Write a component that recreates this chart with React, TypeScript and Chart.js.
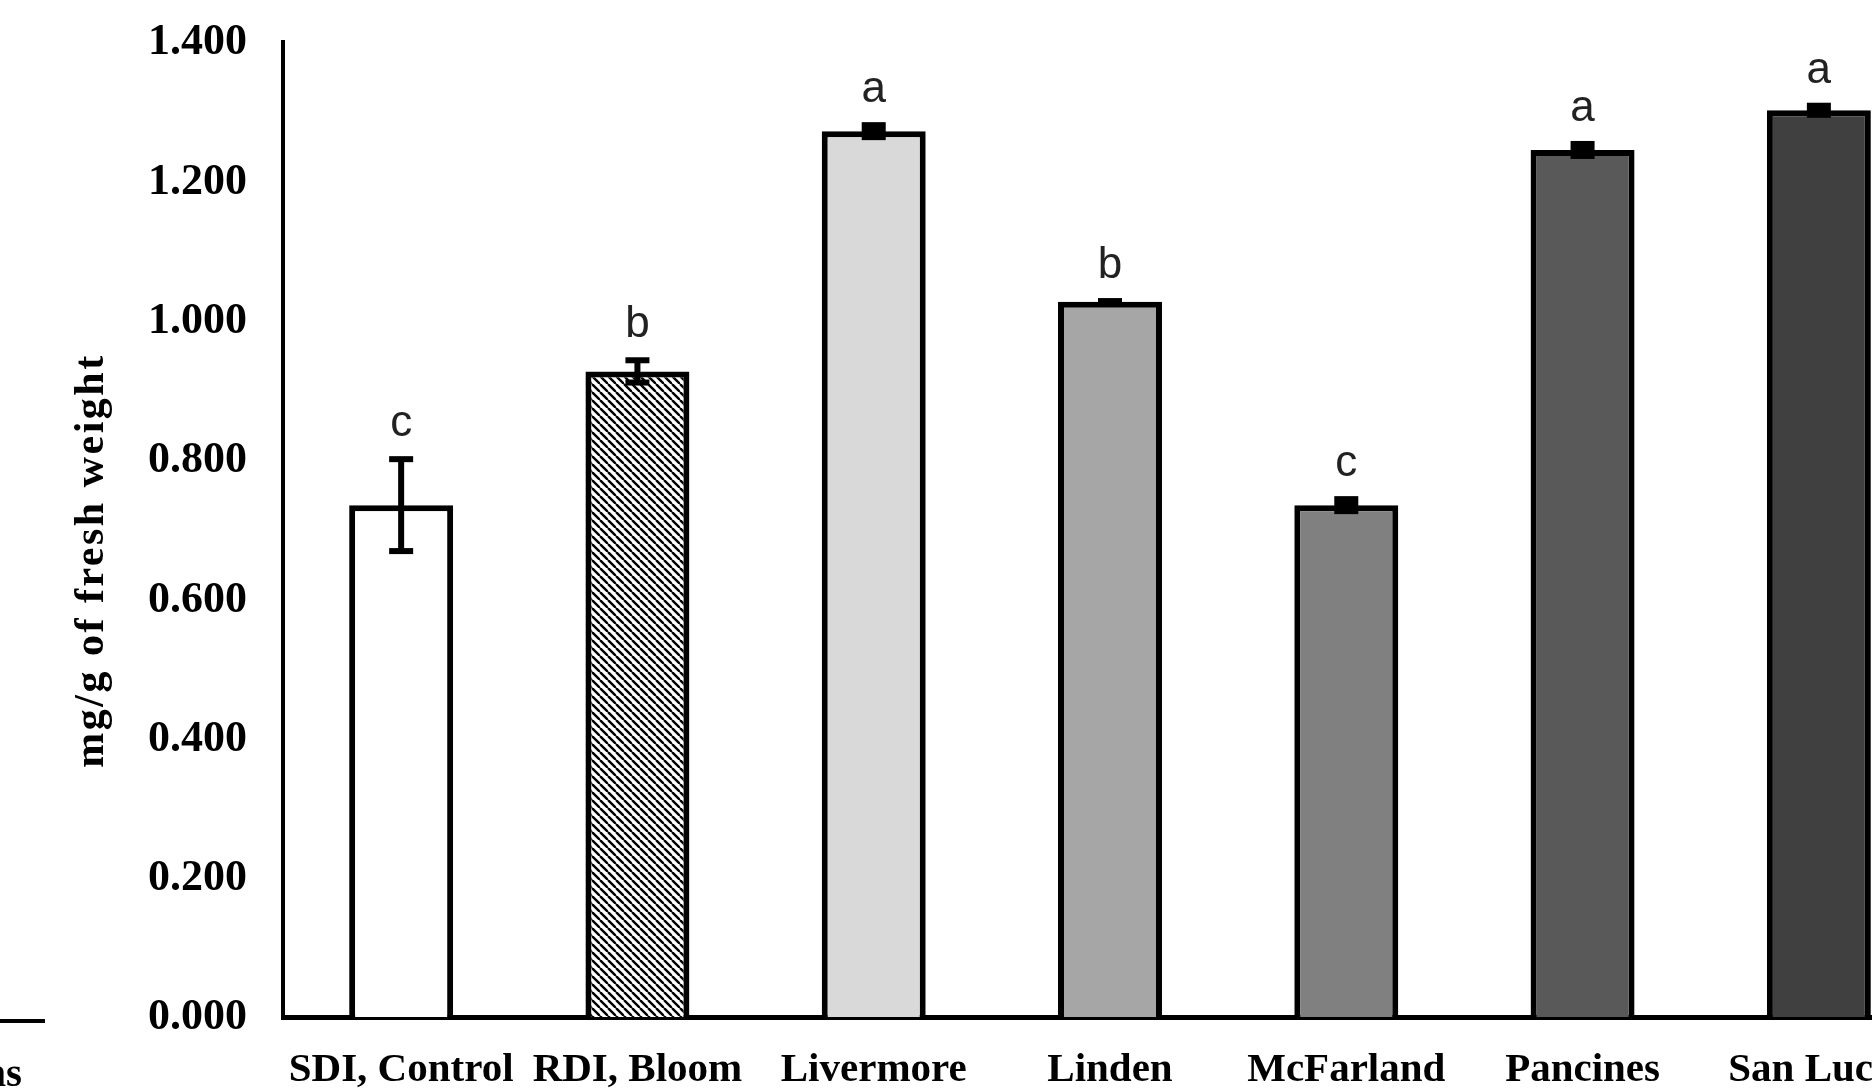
import React, { useEffect, useRef } from "react";
import { Chart, registerables } from "chart.js";

Chart.register(...registerables);

const categories = ["SDI, Control", "RDI, Bloom", "Livermore", "Linden", "McFarland", "Pancines", "San Lucas"];
const means = [0.735, 0.927, 1.272, 1.027, 0.735, 1.245, 1.302];
const errors = [0.066, 0.016, 0.0086, 0.001, 0.0086, 0.0086, 0.0065];
const letters = ["c", "b", "a", "b", "c", "a", "a"];
const yTicks = [0, 0.2, 0.4, 0.6, 0.8, 1.0, 1.2, 1.4];
const fills = ["#ffffff", "hatch", "#d9d9d9", "#a6a6a6", "#808080", "#595959", "#404040"];
const yTitle = "mg/g of fresh weight";
const cutLabel = "Locations";

const SERIF = '"Liberation Serif", "Times New Roman", serif';
const SANS = '"Liberation Sans", Arial, sans-serif';

function makeHatch(): CanvasPattern | string {
  const c = document.createElement("canvas");
  c.width = 8;
  c.height = 8;
  const g = c.getContext("2d");
  if (!g) return "#999";
  g.fillStyle = "#ffffff";
  g.fillRect(0, 0, 8, 8);
  g.strokeStyle = "#000000";
  g.lineWidth = 2.4;
  for (const k of [-8, 0, 8]) {
    g.beginPath();
    g.moveTo(k, 0);
    g.lineTo(k + 8, 8);
    g.stroke();
  }
  const p = g.createPattern(c, "repeat");
  return p || "#999";
}

const textPlugin = {
  id: "customText",
  afterDatasetsDraw(chart: any) {
    const ctx = chart.ctx as CanvasRenderingContext2D;
    const ys = chart.scales.y;
    const meta = chart.getDatasetMeta(0);
    const lw = 6;
    const half = 12;
    ctx.save();
    ctx.fillStyle = "#000";
    meta.data.forEach((bar: any, i: number) => {
      const x = bar.x;
      const yTop = ys.getPixelForValue(means[i] + errors[i]);
      const yBot = ys.getPixelForValue(means[i] - errors[i]);
      ctx.fillStyle = "#000";
      if (yBot - yTop - lw < 10) {
        // tiny error bar renders as a solid block
        ctx.fillRect(x - half, yTop - lw / 2, half * 2, yBot - yTop + lw);
      } else {
        ctx.fillRect(x - lw / 2, yTop, lw, yBot - yTop);
        ctx.fillRect(x - half, yTop - lw / 2, half * 2, lw);
        ctx.fillRect(x - half, yBot - lw / 2, half * 2, lw);
      }
      // significance letters
      ctx.fillStyle = "#222";
      ctx.font = `300 44px ${SANS}`;
      ctx.textAlign = "center";
      ctx.textBaseline = "alphabetic";
      ctx.fillText(letters[i], x, yTop - lw / 2 - 20);
    });
    ctx.restore();
  },
  afterDraw(chart: any) {
    const ctx = chart.ctx as CanvasRenderingContext2D;
    const ys = chart.scales.y;
    const xs = chart.scales.x;
    ctx.save();
    ctx.fillStyle = "#000";
    // y tick labels
    ctx.font = `bold 44px ${SERIF}`;
    ctx.textAlign = "right";
    ctx.textBaseline = "middle";
    yTicks.forEach((v) => {
      ctx.fillText(v.toFixed(3), chart.chartArea.left - 36, ys.getPixelForValue(v) + 1);
    });
    // x labels
    ctx.font = `bold 41px ${SERIF}`;
    ctx.textAlign = "center";
    categories.forEach((c, i) => {
      ctx.fillText(c, xs.getPixelForValue(i), chart.chartArea.bottom + 53);
    });
    // y title
    ctx.save();
    ctx.translate(92, (chart.chartArea.top + chart.chartArea.bottom) / 2 + 31);
    ctx.rotate(-Math.PI / 2);
    ctx.font = `bold 42px ${SERIF}`;
    (ctx as any).letterSpacing = "2.5px";
    ctx.textAlign = "center";
    ctx.textBaseline = "middle";
    ctx.fillText(yTitle, 0, 0);
    ctx.restore();
    // cut-off fragment from neighbouring panel
    ctx.strokeStyle = "#000";
    ctx.lineWidth = 4;
    ctx.beginPath();
    ctx.moveTo(0, chart.chartArea.bottom + 4);
    ctx.lineTo(45, chart.chartArea.bottom + 4);
    ctx.stroke();
    ctx.font = `bold 41px ${SERIF}`;
    ctx.textAlign = "right";
    ctx.textBaseline = "middle";
    ctx.fillText(cutLabel, 22, chart.chartArea.bottom + 58);
    ctx.restore();
  },
};

export default function App() {
  const ref = useRef<HTMLCanvasElement | null>(null);
  useEffect(() => {
    if (!ref.current) return;
    const hatch = makeHatch();
    const bg = fills.map((f) => (f === "hatch" ? hatch : f));
    const chart = new Chart(ref.current, {
      type: "bar",
      data: {
        labels: categories,
        datasets: [
          {
            data: means,
            backgroundColor: bg as any,
            borderColor: "#000",
            borderWidth: 6,
            barPercentage: 0.44,
            categoryPercentage: 1,
          },
        ],
      },
      options: {
        responsive: false,
        animation: false,
        devicePixelRatio: 1,
        layout: { padding: { left: 283, top: 42, right: 23, bottom: 73 } },
        plugins: { legend: { display: false }, tooltip: { enabled: false } },
        scales: {
          x: {
            grid: { display: false },
            ticks: { display: false },
            border: { display: true, color: "#000", width: 5 },
            afterFit: (s: any) => {
              s.height = 0;
            },
          },
          y: {
            min: 0,
            max: 1.4,
            grid: { display: false },
            ticks: { display: false, stepSize: 0.2 },
            border: { display: true, color: "#000", width: 4 },
            afterFit: (s: any) => {
              s.width = 0;
            },
          },
        },
      },
      plugins: [textPlugin],
    });
    return () => chart.destroy();
  }, []);
  return (
    <div
      style={{
        position: "fixed",
        left: 0,
        top: 0,
        width: 1872,
        height: 1090,
        overflow: "hidden",
        background: "#fff",
      }}
    >
      <canvas ref={ref} width={1960} height={1090} style={{ display: "block" }} />
    </div>
  );
}
